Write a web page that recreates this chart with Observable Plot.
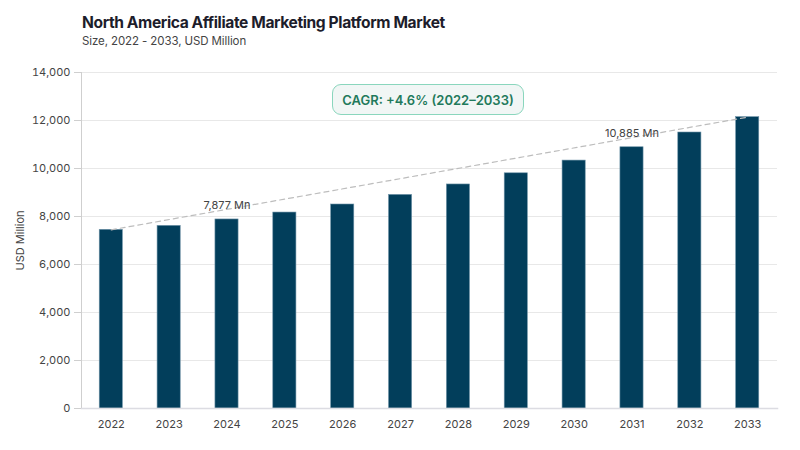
<!DOCTYPE html>
<html>
<head>
<meta charset="utf-8">
<script src="https://cdn.jsdelivr.net/npm/d3@7"></script>
<script src="https://cdn.jsdelivr.net/npm/@observablehq/plot@0.6"></script>
<style>
  html, body { margin: 0; padding: 0; background: #fff; }
  body { font-family: Inter, "Noto Sans", sans-serif; }
  #wrap { position: relative; width: 800px; height: 450px; overflow: hidden; }
  #title { position: absolute; left: 82px; top: 13px; font-size: 15.6px; font-weight: 700; color: #1d1d2b; letter-spacing: -0.4px; white-space: nowrap; }
  #subtitle { position: absolute; left: 82px; top: 34px; font-size: 11.5px; color: #444; letter-spacing: -0.1px; white-space: nowrap; }
  #chart { position: absolute; left: 0; top: 60px; }
  #cagr { position: absolute; left: 332px; top: 84px; width: 190px; height: 29px; border: 1.5px solid #8ad6bd; border-radius: 9px; background: #f1f6f5; color: #1f7a5c; font-size: 13px; font-weight: 600; display: flex; align-items: center; justify-content: center; white-space: nowrap; }
</style>
</head>
<body>
<div id="wrap">
  <div id="title">North America Affiliate Marketing Platform Market</div>
  <div id="subtitle">Size, 2022 - 2033, USD Million</div>
  <div id="chart"></div>
  <div id="cagr">CAGR: +4.6% (2022–2033)</div>
</div>
<script>
const years = ["2022","2023","2024","2025","2026","2027","2028","2029","2030","2031","2032","2033"];
const values = [7445, 7610, 7877, 8165, 8500, 8900, 9335, 9800, 10330, 10885, 11500, 12140];
const yTicks = [0, 2000, 4000, 6000, 8000, 10000, 12000, 14000];
const labelYears = ["2024", "2031"];

const data = years.map((y, i) => ({year: y, value: values[i]}));
const trend = [data[0], data[data.length - 1]];
const labeled = data.filter(d => labelYears.includes(d.year));
const fmt = d3.format(",");

const chart = Plot.plot({
  width: 800,
  height: 390,
  marginTop: 12,
  marginBottom: 42,
  marginLeft: 81,
  marginRight: 23,
  style: { fontFamily: "Inter, 'Noto Sans', sans-serif", fontSize: "11px", color: "#444", background: "transparent" },
  x: { domain: years, paddingInner: 0.6, paddingOuter: 0.315, round: false },
  y: { domain: [0, 14000] },
  marks: [
    Plot.gridY(yTicks, { stroke: "#e8e8e8", strokeOpacity: 1 }),
    Plot.frame({ anchor: "left", stroke: "#cfcfcf" }),
    Plot.barY(data, { x: "year", y: "value", fill: "#023e5b", stroke: "#6f93a8", strokeWidth: 0.6 }),
    Plot.frame({ anchor: "bottom", stroke: "#dcdce2", strokeWidth: 1.5 }),
    Plot.line(trend, { x: "year", y: "value", stroke: "#bdbdbd", strokeWidth: 1.2, strokeDasharray: "5,4" }),
    Plot.text(labeled, { x: "year", y: "value", text: d => `${fmt(d.value)} Mn`, dy: -14, fill: "#444", fontSize: 11 }),
    Plot.axisY(yTicks, { tickFormat: d => fmt(d), tickSize: 7, tickPadding: 4, stroke: "#cfcfcf", fill: "#444", fontSize: 11,
      label: "USD Million", labelAnchor: "center", labelArrow: "none", labelOffset: 65 }),
    Plot.axisX({ tickSize: 0, tickPadding: 12, fill: "#444", fontSize: 11, label: null })
  ]
});
document.getElementById("chart").appendChild(chart);
</script>
</body>
</html>
